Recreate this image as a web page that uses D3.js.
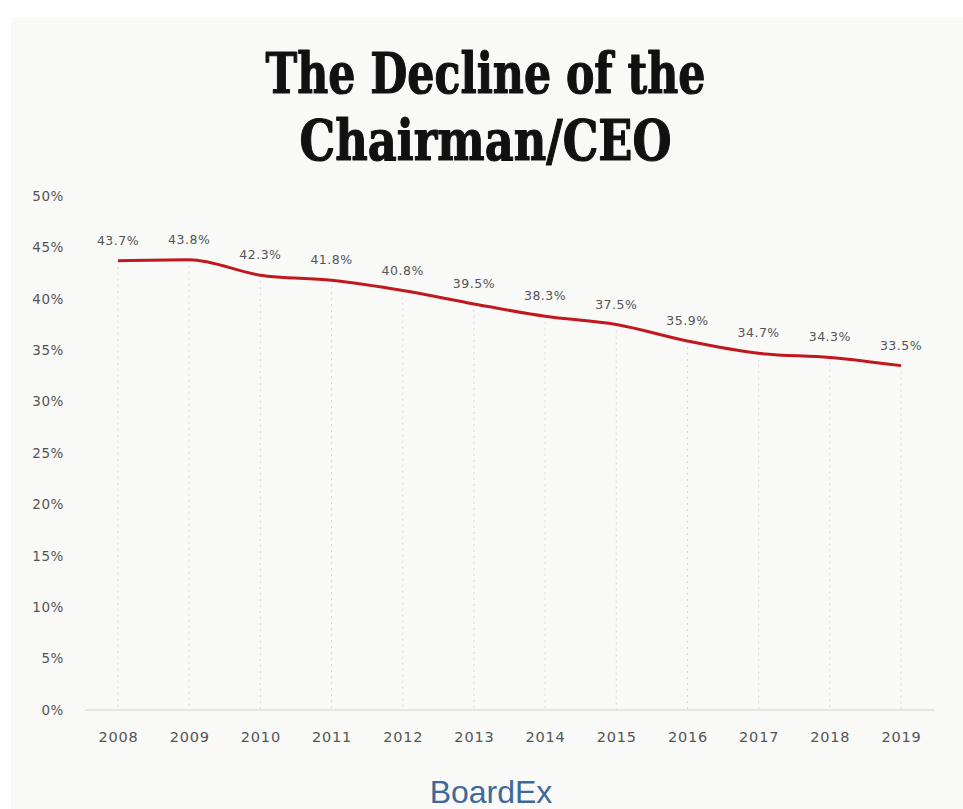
<!DOCTYPE html>
<html>
<head>
<meta charset="utf-8">
<script src="https://cdn.jsdelivr.net/npm/d3@7/dist/d3.min.js"></script>
<style>
  html, body { margin: 0; padding: 0; background: #ffffff; }
  svg { display: block; }
</style>
</head>
<body>
<svg id="chart" width="963" height="809"></svg>
<script>
// Share of boards where the Chairman and CEO roles are combined
const years = ["2008", "2009", "2010", "2011", "2012", "2013", "2014", "2015", "2016", "2017", "2018", "2019"];
const shares = [43.7, 43.8, 42.3, 41.8, 40.8, 39.5, 38.3, 37.5, 35.9, 34.7, 34.3, 33.5];
const yTicks = [0, 5, 10, 15, 20, 25, 30, 35, 40, 45, 50];
const titleLines = ["The Decline of the", "Chairman/CEO"];
const sourceLabel = "BoardEx";

const svg = d3.select("#chart");
const W = 963, H = 809;
const labelFont = "'DejaVu Sans', 'Open Sans', sans-serif";

// panel background
svg.append("rect")
  .attr("x", 11).attr("y", 17)
  .attr("width", W - 11).attr("height", H - 17)
  .attr("fill", "#f9f9f8");

// title, compressed horizontally to a condensed headline look
const titleWidths = [440, 372];
const titleBase = [93, 160];
titleLines.forEach((t, i) => {
  const g = svg.append("g").attr("transform", `translate(${W / 2 + 4},${titleBase[i]})`);
  const txt = g.append("text")
    .attr("text-anchor", "middle")
    .attr("font-family", "'DejaVu Serif', 'Liberation Serif', serif")
    .attr("font-weight", "bold")
    .attr("font-size", 56)
    .attr("fill", "#111")
    .attr("stroke", "#111")
    .attr("stroke-width", 1.2)
    .attr("stroke-linejoin", "round")
    .text(t);
  const len = txt.node().getComputedTextLength();
  txt.attr("transform", `scale(${titleWidths[i] / len},1)`);
});

// scales
const x = d3.scalePoint().domain(years).range([118, 901]);
const y = d3.scaleLinear().domain([0, 50]).range([710, 196]);

// baseline axis
svg.append("line")
  .attr("x1", 85).attr("x2", 935)
  .attr("y1", y(0)).attr("y2", y(0))
  .attr("stroke", "#dedee2").attr("stroke-width", 1.5);

// y-axis labels
const yAxis = d3.axisLeft(y).tickValues(yTicks).tickFormat(d => d + "%").tickSize(0).tickPadding(0);
const yg = svg.append("g").attr("transform", "translate(64,0)").call(yAxis);
yg.select(".domain").remove();
yg.selectAll("text")
  .attr("font-family", labelFont)
  .attr("font-size", 13.5)
  .attr("letter-spacing", 0.6)
  .attr("fill", "#555");

// x-axis labels
const xAxis = d3.axisBottom(x).tickSize(0).tickPadding(0);
const xg = svg.append("g").attr("transform", `translate(0,${y(0) + 22})`).call(xAxis);
xg.select(".domain").remove();
xg.selectAll("text")
  .attr("font-family", labelFont)
  .attr("font-size", 14.5)
  .attr("letter-spacing", 0.8)
  .attr("fill", "#555");

// dotted drop lines from each point to the baseline
svg.append("g").selectAll("line")
  .data(years)
  .join("line")
  .attr("x1", d => x(d)).attr("x2", d => x(d))
  .attr("y1", (d, i) => y(shares[i]))
  .attr("y2", y(0))
  .attr("stroke", "#d6d6de")
  .attr("stroke-width", 1)
  .attr("stroke-dasharray", "2,4");

// trend line
const line = d3.line()
  .x((d, i) => x(years[i]))
  .y(d => y(d))
  .curve(d3.curveMonotoneX);
svg.append("path")
  .datum(shares)
  .attr("d", line)
  .attr("fill", "none")
  .attr("stroke", "#c0181e")
  .attr("stroke-width", 3)
  .attr("stroke-linejoin", "round");

// value labels
svg.append("g").selectAll("text")
  .data(shares)
  .join("text")
  .attr("x", (d, i) => x(years[i]))
  .attr("y", d => y(d) - 16)
  .attr("text-anchor", "middle")
  .attr("font-family", labelFont)
  .attr("font-size", 12.5)
  .attr("letter-spacing", 0.5)
  .attr("fill", "#555")
  .text(d => d.toFixed(1) + "%");

// source mark
svg.append("text")
  .attr("x", 491).attr("y", 803)
  .attr("text-anchor", "middle")
  .attr("font-family", "'Liberation Sans', Arial, sans-serif")
  .attr("font-size", 32)
  .attr("fill", "#3d6a9c")
  .text(sourceLabel);
</script>
</body>
</html>
